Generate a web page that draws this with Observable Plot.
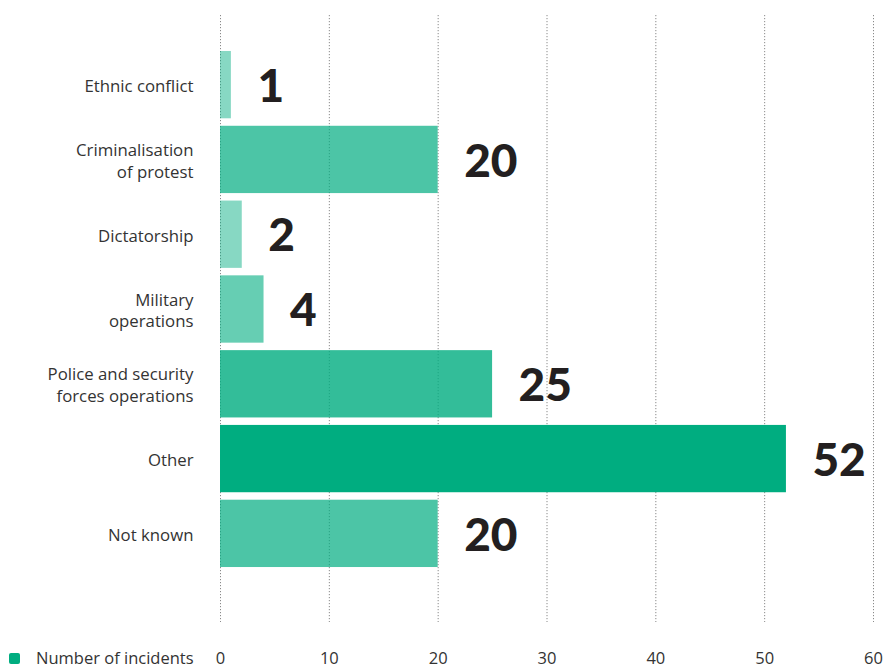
<!DOCTYPE html>
<html>
<head>
<meta charset="utf-8">
<script src="https://cdn.jsdelivr.net/npm/d3@7"></script>
<script src="https://cdn.jsdelivr.net/npm/@observablehq/plot@0.6"></script>
<style>
  html, body { margin: 0; padding: 0; background: #fff; }
  #wrap { position: relative; width: 889px; height: 669px; overflow: hidden; }
  #legend { position: absolute; left: 9px; top: 649px; display: flex; align-items: center; line-height: 18px;
    font-family: "Open Sans", sans-serif; font-size: 16.5px; color: #333; }
  #legend .sw { width: 11px; height: 11px; background: #00ad80; border-radius: 2px; margin-right: 16px; }
</style>
</head>
<body>
<div id="wrap">
  <div id="chart"></div>
  <div id="legend"><span class="sw"></span><span>Number of incidents</span></div>
</div>
<script>
const categories = [
  "Ethnic conflict",
  "Criminalisation\nof protest",
  "Dictatorship",
  "Military\noperations",
  "Police and security\nforces operations",
  "Other",
  "Not known"
];
const incidents = [1, 20, 2, 4, 25, 52, 20];
const xTicks = [0, 10, 20, 30, 40, 50, 60];

const data = categories.map((c, i) => ({category: c, value: incidents[i]}));

const chart = Plot.plot({
  width: 889,
  height: 669,
  marginTop: 15,
  marginBottom: 47,
  marginLeft: 220,
  marginRight: 16,
  style: {fontFamily: "'Open Sans', sans-serif", fontSize: "16px", color: "#333", background: "#fff"},
  x: {domain: [0, 60], ticks: xTicks, label: null},
  y: {domain: categories, padding: 0.1, round: false, insetTop: 28.5, insetBottom: 47.5, label: null},
  opacity: {type: "threshold", domain: [3, 10, 22, 40], range: [0.47, 0.6, 0.7, 0.8, 1]},
  marks: [
    Plot.ruleX(xTicks, {stroke: "#8a8a8a", strokeDasharray: "1.2,1.8", strokeWidth: 1}),
    Plot.barX(data, {x: "value", y: "category", fill: "#00ad80", fillOpacity: "value"}),
    Plot.text(data, {x: "value", y: "category", text: d => String(d.value), textAnchor: "start", dx: 26, dy: 2,
      fontFamily: "Lato, sans-serif", fontWeight: 900, fontSize: 46, fill: "#231f20"}),
    Plot.axisY({tickSize: 0, tickPadding: 27, label: null, fontSize: 16.8, lineHeight: 1.3, fill: "#333"}),
    Plot.axisX({ticks: xTicks, tickSize: 0, tickPadding: 30, label: null, fontSize: 16.5, fill: "#333"})
  ]
});
document.getElementById("chart").appendChild(chart);
</script>
</body>
</html>
